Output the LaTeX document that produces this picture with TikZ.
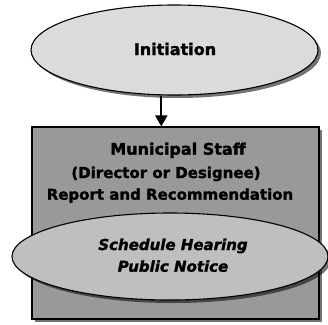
\documentclass[tikz,border=0pt]{standalone}
\usepackage{fontspec}
\setmainfont{DejaVu Sans}[BoldFont={DejaVu Sans Bold},BoldFeatures={FakeBold=1.6},BoldItalicFont={DejaVu Sans Bold Oblique},BoldItalicFeatures={FakeBold=1.6}]
\usepackage{tikz}
\usetikzlibrary{arrows.meta}
\usetikzlibrary{shapes.geometric}
\usetikzlibrary{shadows}

\tikzset{
flowshadow/.style={drop shadow={shadow xshift=3pt,shadow yshift=-3pt,fill=black,opacity=0.55}},
ovalbox/.style={ellipse,draw=black,line width=1.1pt,flowshadow,inner sep=0pt},
staffbox/.style={rectangle,draw=black,line width=1.1pt,flowshadow,inner sep=0pt},
boldtext/.style={font=\fontsize{15}{22}\selectfont\bfseries,align=center}
}

\begin{document}
\begin{tikzpicture}[x=1pt,y=-1pt]
\useasboundingbox (0,0) rectangle (328,324);
\node[ovalbox,fill=black!14,minimum width=287pt,minimum height=90pt] (init) at (174.5,50) {};
\node[boldtext,font=\fontsize{16}{19}\selectfont\bfseries,anchor=base] (initText) at (175,55) {Initiation};
\node[staffbox,fill=black!40,minimum width=287pt,minimum height=192pt] (staff) at (175.5,223) {};
\coordinate (arrowX) at (161.3,0);
\draw[line width=2pt,-{Triangle[width=12pt,length=11pt]}] (init.south -| arrowX) -- (staff.north -| arrowX);
\node[boldtext,font=\fontsize{16}{19}\selectfont\bfseries,anchor=base] (staffTitle) at (178,154.7) {Municipal Staff};
\node[boldtext,anchor=base] (staffRole) at (166,178) {(Director or Designee)};
\node[boldtext,anchor=base] (staffReport) at (170,199.7) {Report and Recommendation};
\node[ovalbox,fill=black!25,minimum width=316pt,minimum height=87pt] (notice) at (170,256.5) {};
\node[boldtext,font=\fontsize{15}{21.7}\selectfont\bfseries\itshape,anchor=base] (noticeText) at (173,271.7) {Schedule Hearing\\Public Notice};
\end{tikzpicture}
\end{document}
